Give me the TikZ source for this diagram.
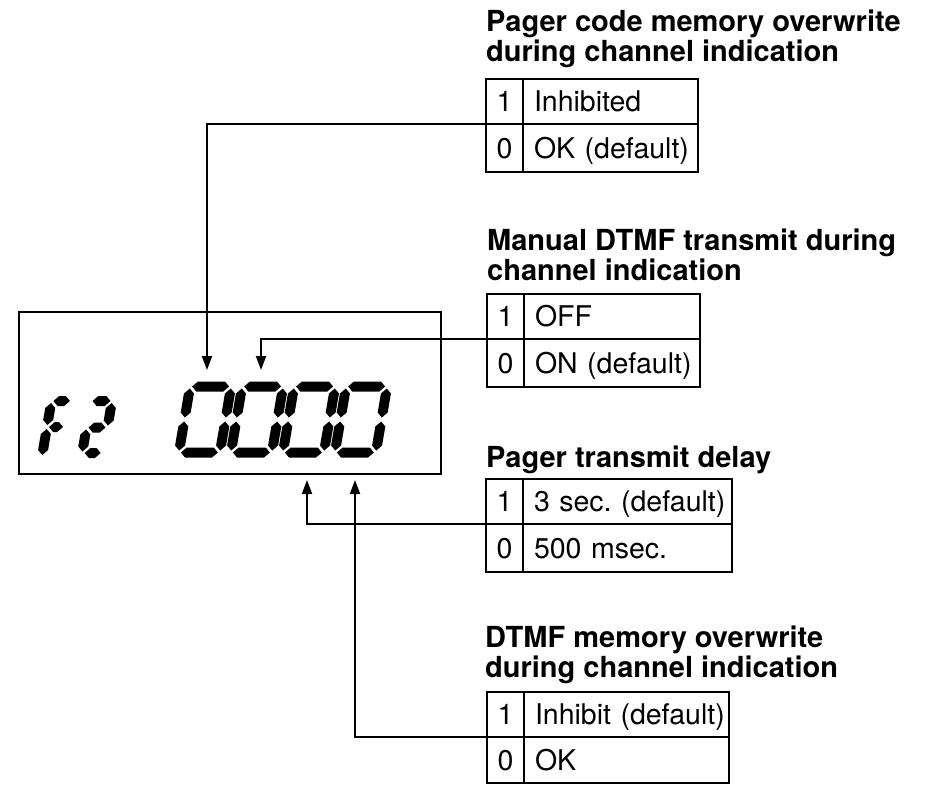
\documentclass[tikz,border=0pt]{standalone}
\usepackage{fontspec}
\setmainfont{TeX Gyre Heros}
\frenchspacing
\usetikzlibrary{arrows.meta}

% one LCD segment, pointed ends
\newcommand{\hseg}[3]{\fill (#1,#3) -- ++(5,-5) -- ++({#2-#1-10},0) -- ++(5,5) -- ++(-5,5) -- ++({#1-#2+10},0) -- cycle;}
\newcommand{\vseg}[3]{\fill (#1,#2) -- ++(5,5) -- ++(0,{#3-#2-10}) -- ++(-5,5) -- ++(-5,-5) -- ++(0,{#2-#3+10}) -- cycle;}
\newcommand{\lcdzero}[1]{%
  \begin{scope}[shift={(#1,419.5)},xslant=0.17]
    \hseg{-18.5}{18.5}{-33} \vseg{20.5}{-31}{-2} \vseg{20.5}{2}{31}
    \hseg{-18.5}{18.5}{33} \vseg{-20.5}{2}{31} \vseg{-20.5}{-31}{-2}
  \end{scope}}

\tikzset{
  lcd/.style={draw,line width=2pt,inner sep=0pt,outer sep=0pt,anchor=north west},
  numcell/.style={draw,line width=2pt,inner sep=0pt,outer sep=0pt,anchor=north west,minimum width=37pt,
    text height=20.5pt,text depth=0pt,font=\fontsize{28.5}{30}\selectfont},
  txtcell/.style={numcell,minimum width=0pt,text width=#1,align=left,
    execute at begin node={\hspace*{11pt}}},
  hirow/.style={minimum height=45pt},
  lorow/.style={minimum height=48pt},
  heading/.style={anchor=base west,inner sep=0pt,align=left,font=\fontsize{29}{30}\selectfont\bfseries},
  wire/.style={line width=2pt,-{Triangle[length=14pt,width=10pt]}}
}

\begin{document}
\begin{tikzpicture}[x=1pt,y=-1pt]
  \useasboundingbox (0,0) rectangle (928,784);

  % display
  \node[lcd,minimum width=422pt,minimum height=162pt] (lcd) at (19,312) {};
  \begin{scope}[shift={(55,427)},xslant=0.17]
    \hseg{-6}{10.5}{-26} \vseg{-8}{-24}{-2} \hseg{-6}{8}{0} \vseg{-8}{2}{28}
  \end{scope}
  \begin{scope}[shift={(97,427.5)},xslant=0.17]
    \hseg{-9}{9}{-26.5} \vseg{10.5}{-24.5}{-2} \hseg{-8.5}{8.5}{0}
    \vseg{-10.5}{2}{24} \hseg{-8}{8}{25.5}
  \end{scope}
  \lcdzero{205} \lcdzero{257} \lcdzero{309} \lcdzero{361}
  \coordinate (pcpin) at (207,370);
  \coordinate (mdpin) at (261,370);
  \coordinate (ptpin) at (307,480);
  \coordinate (dmpin) at (355,480);

  % pager code memory overwrite
  \node[heading] (pchead) at (486,62) {Pager code memory overwrite\\during channel indication};
  \node[numcell,hirow] (pc1n) at (486,79) {1};
  \node[txtcell=175pt,hirow] (pc1t) at (pc1n.north east) {Inhibited};
  \node[numcell,lorow] (pc0n) at (pc1n.south west) {0};
  \node[txtcell=175pt,lorow] (pc0t) at (pc0n.north east) {OK (default)};

  % manual DTMF transmit
  \node[heading] (mdhead) at (487,280) {Manual DTMF transmit during\\channel indication};
  \node[numcell,hirow] (md1n) at (487,294) {1};
  \node[txtcell=176pt,hirow] (md1t) at (md1n.north east) {OFF};
  \node[numcell,lorow] (md0n) at (md1n.south west) {0};
  \node[txtcell=176pt,lorow] (md0t) at (md0n.north east) {ON (default)};

  % pager transmit delay
  \node[heading] (pthead) at (486,467) {Pager transmit delay};
  \node[numcell,hirow] (pt1n) at (486,479) {1};
  \node[txtcell=209pt,hirow] (pt1t) at (pt1n.north east) {3 sec. (default)};
  \node[numcell,lorow] (pt0n) at (pt1n.south west) {0};
  \node[txtcell=209pt,lorow] (pt0t) at (pt0n.north east) {500 msec.};

  % DTMF memory overwrite
  \node[heading] (dmhead) at (485,677) {DTMF memory overwrite\\during channel indication};
  \node[numcell,hirow] (dm1n) at (487,692) {1};
  \node[txtcell=205pt,hirow] (dm1t) at (dm1n.north east) {Inhibit (default)};
  \node[numcell,lorow,minimum height=46pt] (dm0n) at (dm1n.south west) {0};
  \node[txtcell=205pt,lorow,minimum height=46pt] (dm0t) at (dm0n.north east) {OK};

  \draw[wire] (pc0n.north west) -| (pcpin);
  \draw[wire] (md0n.north west) -| (mdpin);
  \draw[wire] (pt0n.north west) -| (ptpin);
  \draw[wire] (dm0n.north west) -| (dmpin);
\end{tikzpicture}
\end{document}
